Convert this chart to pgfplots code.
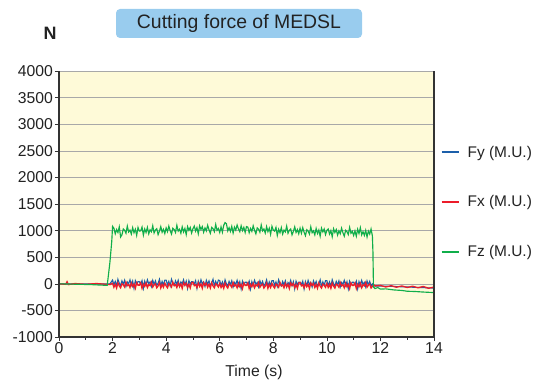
\documentclass[border=0pt]{standalone}
\usepackage{fontspec}
\setmainfont{Liberation Sans}
\usepackage{pgfplots}
\pgfplotsset{compat=1.18}
\definecolor{bg}{HTML}{FEFAD8}
\definecolor{axdark}{HTML}{333333}
\definecolor{gridgray}{HTML}{A8A8A8}
\definecolor{labgray}{HTML}{222222}
\definecolor{titleblue}{HTML}{99CCEE}
\definecolor{fyblue}{HTML}{1C5FAA}
\definecolor{fxred}{HTML}{EC1C2A}
\definecolor{fzgreen}{HTML}{10AE4A}

\begin{document}
\begin{tikzpicture}
\begin{axis}[
  scale only axis, width=375bp, height=266bp,
  xmin=0, xmax=14, ymin=-1000, ymax=4000,
  xtick={0,2,...,14}, ytick={-1000,-500,...,4000},
  minor x tick num=1,
  tick align=outside, xtick pos=bottom, ytick pos=left,
  major tick length=4bp, minor tick length=2.5bp,
  tick style={color=axdark, line width=0.6pt},
  ymajorgrids, major grid style={gridgray, line width=0.6pt},
  axis background/.style={fill=bg},
  axis line style={draw=none},
  clip=false,
  /pgf/number format/assume math mode=true,
  /pgf/number format/1000 sep={},
  ticklabel style={font=\fontsize{15.8}{18}\selectfont\color{labgray}},
  xticklabel style={inner sep=1.5bp},
  yticklabel style={inner sep=2bp},
  xlabel={Time (s)},
  xlabel style={at={(axis description cs:0.52,-0.135)}, anchor=center, font=\fontsize{15.8}{18}\selectfont\color{labgray}},
  legend image code/.code={\draw[line width=2bp] (0bp,0bp) -- (17bp,0bp);},
  legend style={draw=none, fill=none, at={(1.017,0.507)}, anchor=west,
    row sep=33bp, font=\fontsize{15.5}{18}\selectfont\color{labgray},
    cells={anchor=west}, inner xsep=0pt,
    nodes={inner xsep=8bp}},
]
\addplot[fyblue, line width=1.1pt] coordinates {
(0,0)(1.9,0)
(2.0,70)(2.05,-20)(2.1,45)(2.15,-40)(2.2,85)(2.25,10)(2.3,-30)(2.35,55)(2.4,-10)(2.45,65)
(2.5,-50)(2.55,35)(2.6,0)(2.65,75)(2.7,-25)(2.75,50)(2.8,-85)(2.85,60)(2.9,-5)(2.95,40)
(3.0,40)(3.05,-5)(3.1,60)(3.15,-85)(3.2,50)(3.25,-25)(3.3,75)(3.35,0)(3.4,35)(3.45,-50)
(3.5,65)(3.55,-10)(3.6,55)(3.65,-30)(3.7,10)(3.75,85)(3.8,-40)(3.85,45)(3.9,-20)(3.95,70)
(4.0,70)(4.05,-20)(4.1,45)(4.15,-40)(4.2,85)(4.25,10)(4.3,-30)(4.35,55)(4.4,-10)(4.45,65)
(4.5,-50)(4.55,35)(4.6,0)(4.65,75)(4.7,-25)(4.75,50)(4.8,-85)(4.85,60)(4.9,-5)(4.95,40)
(5.0,40)(5.05,-5)(5.1,60)(5.15,-85)(5.2,50)(5.25,-25)(5.3,75)(5.35,0)(5.4,35)(5.45,-50)
(5.5,65)(5.55,-10)(5.6,55)(5.65,-30)(5.7,10)(5.75,85)(5.8,-40)(5.85,45)(5.9,-20)(5.95,70)
(6.0,60)(6.05,-30)(6.1,35)(6.15,-50)(6.2,75)(6.25,0)(6.3,-40)(6.35,45)(6.4,-20)(6.45,55)
(6.5,-60)(6.55,25)(6.6,-10)(6.65,65)(6.7,-35)(6.75,40)(6.8,-95)(6.85,50)(6.9,-15)(6.95,30)
(7.0,30)(7.05,-15)(7.1,50)(7.15,-95)(7.2,40)(7.25,-35)(7.3,65)(7.35,-10)(7.4,25)(7.45,-60)
(7.5,55)(7.55,-20)(7.6,45)(7.65,-40)(7.7,0)(7.75,75)(7.8,-50)(7.85,35)(7.9,-30)(7.95,60)
(8.0,60)(8.05,-30)(8.1,35)(8.15,-50)(8.2,75)(8.25,0)(8.3,-40)(8.35,45)(8.4,-20)(8.45,55)
(8.5,-60)(8.55,25)(8.6,-10)(8.65,65)(8.7,-35)(8.75,40)(8.8,-95)(8.85,50)(8.9,-15)(8.95,30)
(9.0,30)(9.05,-15)(9.1,50)(9.15,-95)(9.2,40)(9.25,-35)(9.3,65)(9.35,-10)(9.4,25)(9.45,-60)
(9.5,55)(9.55,-20)(9.6,45)(9.65,-40)(9.7,0)(9.75,75)(9.8,-50)(9.85,35)(9.9,-30)(9.95,60)
(10.0,60)(10.05,-30)(10.1,35)(10.15,-50)(10.2,75)(10.25,0)(10.3,-40)(10.35,45)(10.4,-20)(10.45,55)
(10.5,-60)(10.55,25)(10.6,-10)(10.65,65)(10.7,-35)(10.75,40)(10.8,-95)(10.85,50)(10.9,-15)(10.95,30)
(11.0,30)(11.05,-15)(11.1,50)(11.15,-95)(11.2,40)(11.25,-35)(11.3,65)(11.35,-10)(11.4,25)(11.45,-60)
(11.5,55)(11.55,-20)(11.6,45)(11.65,-40)(11.7,0)
(11.75,-40)(12.5,-50)(13.0,-60)(14.0,-80)
};
\addplot[fxred, line width=1.3pt] coordinates {
(0,0)(0.25,-10)(0.3,40)(0.35,-15)(0.6,5)(1.0,-10)(1.4,5)(1.9,-15)
(2.0,10)(2.05,-65)(2.1,-10)(2.15,-80)(2.2,20)(2.25,-40)(2.3,-75)(2.35,0)(2.4,-20)(2.45,-60)
(2.5,30)(2.55,-35)(2.6,-15)(2.65,-70)(2.7,15)(2.75,-50)(2.8,-5)(2.85,-85)(2.9,20)(2.95,-25)
(3.0,-25)(3.05,20)(3.1,-85)(3.15,-5)(3.2,-50)(3.25,15)(3.3,-70)(3.35,-15)(3.4,-35)(3.45,30)
(3.5,-60)(3.55,-20)(3.6,0)(3.65,-75)(3.7,-40)(3.75,20)(3.8,-80)(3.85,-10)(3.9,-65)(3.95,10)
(4.0,-40)(4.05,-75)(4.1,0)(4.15,-20)(4.2,-60)(4.25,30)(4.3,-35)(4.35,-15)(4.4,-70)(4.45,15)
(4.5,-50)(4.55,-5)(4.6,-85)(4.65,20)(4.7,-25)(4.75,10)(4.8,-65)(4.85,-10)(4.9,-80)(4.95,20)
(5.0,30)(5.05,-35)(5.1,-15)(5.15,-70)(5.2,15)(5.25,-50)(5.3,-5)(5.35,-85)(5.4,20)(5.45,-25)
(5.5,10)(5.55,-65)(5.6,-10)(5.65,-80)(5.7,20)(5.75,-40)(5.8,-75)(5.85,0)(5.9,-20)(5.95,-60)
(6.0,5)(6.05,-70)(6.1,-15)(6.15,-85)(6.2,15)(6.25,-45)(6.3,-80)(6.35,-5)(6.4,-25)(6.45,-65)
(6.5,25)(6.55,-40)(6.6,-20)(6.65,-75)(6.7,10)(6.75,-55)(6.8,-10)(6.85,-90)(6.9,15)(6.95,-30)
(7.0,-30)(7.05,15)(7.1,-90)(7.15,-10)(7.2,-55)(7.25,10)(7.3,-75)(7.35,-20)(7.4,-40)(7.45,25)
(7.5,-65)(7.55,-25)(7.6,-5)(7.65,-80)(7.7,-45)(7.75,15)(7.8,-85)(7.85,-15)(7.9,-70)(7.95,5)
(8.0,-45)(8.05,-80)(8.1,-5)(8.15,-25)(8.2,-65)(8.25,25)(8.3,-40)(8.35,-20)(8.4,-75)(8.45,10)
(8.5,-55)(8.55,-10)(8.6,-90)(8.65,15)(8.7,-30)(8.75,5)(8.8,-70)(8.85,-15)(8.9,-85)(8.95,15)
(9.0,25)(9.05,-40)(9.1,-20)(9.15,-75)(9.2,10)(9.25,-55)(9.3,-10)(9.35,-90)(9.4,15)(9.45,-30)
(9.5,5)(9.55,-70)(9.6,-15)(9.65,-85)(9.7,15)(9.75,-45)(9.8,-80)(9.85,-5)(9.9,-25)(9.95,-65)
(10.0,5)(10.05,-70)(10.1,-15)(10.15,-85)(10.2,15)(10.25,-45)(10.3,-80)(10.35,-5)(10.4,-25)(10.45,-65)
(10.5,25)(10.55,-40)(10.6,-20)(10.65,-75)(10.7,10)(10.75,-55)(10.8,-10)(10.85,-90)(10.9,15)(10.95,-30)
(11.0,-30)(11.05,15)(11.1,-90)(11.15,-10)(11.2,-55)(11.25,10)(11.3,-75)(11.35,-20)(11.4,-40)(11.45,25)
(11.5,-65)(11.55,-25)(11.6,-5)(11.65,-80)(11.7,-45)(11.75,-20)
(11.8,-40)(12.0,-30)(12.2,-60)(12.4,-35)(12.6,-65)(12.8,-40)(13.0,-70)(13.2,-45)(13.4,-75)(13.6,-50)(13.8,-85)(14.0,-60)
};
\addplot[fzgreen, line width=1.15pt] coordinates {
(0,0)(0.4,-5)(0.8,-10)(1.2,-15)(1.6,-25)(1.8,-30)(1.9,400)(1.97,800)(2.0,1080)
(2.05,1045)(2.1,940)(2.15,1020)(2.2,965)(2.25,1070)(2.3,880)(2.35,920)(2.4,1030)(2.45,1005)(2.5,950)
(2.55,1085)(2.6,975)(2.65,1010)(2.7,935)(2.75,1055)(2.8,960)(2.85,1025)(2.9,910)(2.95,1060)(3.0,990)
(3.05,995)(3.1,1065)(3.15,915)(3.2,1030)(3.25,965)(3.3,1060)(3.35,940)(3.4,1015)(3.45,980)(3.5,1090)
(3.55,955)(3.6,1010)(3.65,1035)(3.7,925)(3.75,990)(3.8,1075)(3.85,970)(3.9,1025)(3.95,945)(4.0,1050)
(4.05,980)(4.1,1085)(4.15,1000)(4.2,935)(4.25,1045)(4.3,1020)(4.35,965)(4.4,1100)(4.45,990)(4.5,1025)
(4.55,950)(4.6,1070)(4.65,975)(4.7,1040)(4.75,925)(4.8,1075)(4.85,1005)(4.9,1060)(4.95,955)(5.0,1035)
(5.05,1085)(5.1,990)(5.15,1055)(5.2,940)(5.25,1090)(5.3,1020)(5.35,1075)(5.4,970)(5.45,1050)(5.5,995)
(5.55,1100)(5.6,1015)(5.65,950)(5.7,1060)(5.75,1035)(5.8,980)(5.85,1115)(5.9,1005)(5.95,1040)(6.0,965)
(6.05,1070)(6.1,970)(6.15,1100)(6.2,1150)(6.25,1130)(6.3,995)(6.35,1055)(6.4,985)(6.45,1080)(6.5,955)
(6.55,1065)(6.6,1010)(6.65,1105)(6.7,1030)(6.75,980)(6.8,1090)(6.85,1000)(6.9,1060)(6.95,965)(7.0,1075)
(7.05,1065)(7.1,960)(7.15,1040)(7.2,985)(7.25,1090)(7.3,1005)(7.35,940)(7.4,1050)(7.45,1025)(7.5,970)
(7.55,1105)(7.6,995)(7.65,1030)(7.7,955)(7.75,1075)(7.8,980)(7.85,1045)(7.9,930)(7.95,1080)(8.0,1010)
(8.05,990)(8.1,1060)(8.15,910)(8.2,1025)(8.25,960)(8.3,1055)(8.35,935)(8.4,1010)(8.45,975)(8.5,1085)
(8.55,950)(8.6,1005)(8.65,1030)(8.7,920)(8.75,985)(8.8,1070)(8.85,965)(8.9,1020)(8.95,940)(9.0,1045)
(9.05,950)(9.1,1055)(9.15,970)(9.2,905)(9.25,1015)(9.3,990)(9.35,935)(9.4,1070)(9.45,960)(9.5,995)
(9.55,920)(9.6,1040)(9.65,945)(9.7,1010)(9.75,895)(9.8,1045)(9.85,975)(9.9,1030)(9.95,925)(10.0,1005)
(10.05,1030)(10.1,935)(10.15,1000)(10.2,885)(10.25,1035)(10.3,965)(10.35,1020)(10.4,915)(10.45,995)(10.5,940)
(10.55,1045)(10.6,960)(10.65,895)(10.7,1005)(10.75,980)(10.8,925)(10.85,1060)(10.9,950)(10.95,985)(11.0,910)
(11.05,995)(11.1,895)(11.15,1025)(11.2,945)(11.25,1055)(11.3,920)(11.35,980)(11.4,910)(11.45,1005)(11.5,880)
(11.55,990)(11.6,935)(11.65,1030)(11.7,900)(11.72,600)(11.74,-60)
(11.8,-90)(11.9,-70)(12.0,-100)(12.2,-95)(12.5,-115)(12.8,-125)(13.0,-140)(13.3,-145)(13.6,-155)(14.0,-165)
};
\legend{Fy (M.U.), Fx (M.U.), Fz (M.U.)}
\draw[axdark, line width=1.1pt] (rel axis cs:0,1) -- (rel axis cs:0,0) -- (rel axis cs:1,0) -- (rel axis cs:1,1);
\end{axis}
\node[fill=titleblue, rounded corners=4bp, minimum width=246bp, minimum height=29bp, inner sep=0pt,
  font=\fontsize{19.5}{22}\selectfont\color{labgray}] at (180bp,313.5bp) {Cutting force of MEDSL};
\node[font=\bfseries\fontsize{18}{21}\selectfont\color{labgray}] at (-9bp,304bp) {N};
\pgfresetboundingbox
\path (-59bp,-44bp) rectangle (480bp,337bp);
\end{tikzpicture}
\end{document}
